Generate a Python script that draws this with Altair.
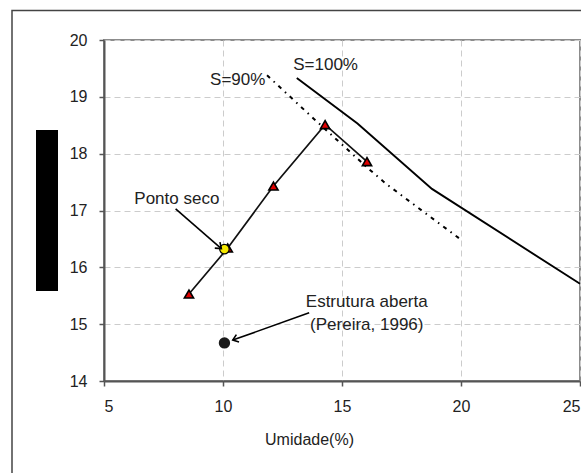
import math
import altair as alt
import pandas as pd

# Compaction test: moisture content (%) vs dry unit weight
umidade = [8.57, 10.2, 12.12, 14.29, 16.05]
peso_esp = [15.53, 16.34, 17.43, 18.51, 17.86]

# Saturation curves
s100_umid = [13.1, 15.65, 18.78, 25.0]
s100_peso = [19.33, 18.53, 17.38, 15.71]
s90_umid = [11.85, 13.8, 16.1, 16.85, 20.05]
s90_peso = [19.38, 18.62, 17.74, 17.47, 16.47]

# Highlighted points
ponto_seco_x, ponto_seco_y = [10.06], [16.32]
aberta_x, aberta_y = [10.06], [14.67]

# Annotations
label_text = ["S=90%", "S=100%", "Ponto seco", "Estrutura aberta", "(Pereira, 1996)"]
label_x = [11.78, 12.95, 8.06, 16.04, 16.04]
label_y = [19.29, 19.56, 17.20, 15.39, 14.99]
label_align = ["right", "left", "center", "center", "center"]

arrow_x1 = [8.01, 13.62]
arrow_y1 = [17.03, 15.20]
arrow_x2 = [9.93, 10.41]
arrow_y2 = [16.33, 14.72]

X_MIN, X_MAX = 5, 25
Y_MIN, Y_MAX = 14, 20
W, H = 476, 341
FONT = "Liberation Sans"

x_scale = alt.Scale(domain=[X_MIN, X_MAX], nice=False, zero=False)
y_scale = alt.Scale(domain=[Y_MIN, Y_MAX], nice=False, zero=False)

x_enc = alt.X(
    "x:Q",
    scale=x_scale,
    axis=alt.Axis(
        values=[5, 10, 15, 20, 25],
        title="Umidade(%)",
        labelPadding=12,
        titleX=205,
        titleY=63,
        titleAlign="center",
        titleBaseline="alphabetic",
    ),
)
y_enc = alt.Y(
    "y:Q",
    scale=y_scale,
    axis=alt.Axis(values=[14, 15, 16, 17, 18, 19, 20], labelPadding=12),
    title=None,
)

one_row = pd.DataFrame({"x": [0]})

# Outer frame around the figure
frame = alt.Chart(one_row).mark_rect(
    fillOpacity=0, stroke="#444444", strokeWidth=1.5
).encode(
    x=alt.value(-92), x2=alt.value(W + 200),
    y=alt.value(-29.5), y2=alt.value(H + 200),
)

# Solid black block at the left of the axis
block = alt.Chart(one_row).mark_rect(color="black").encode(
    x=alt.value(-68), x2=alt.value(-46),
    y=alt.value(90), y2=alt.value(251),
)

test_df = pd.DataFrame({"x": umidade, "y": peso_esp})
s100_df = pd.DataFrame({"x": s100_umid, "y": s100_peso})
s90_df = pd.DataFrame({"x": s90_umid, "y": s90_peso})

s100_line = alt.Chart(s100_df).mark_line(color="black", strokeWidth=1.9).encode(
    x=x_enc, y=y_enc
)
s90_line = alt.Chart(s90_df).mark_line(
    color="black", strokeWidth=2, strokeDash=[4, 5, 1.5, 5]
).encode(x=x_enc, y=y_enc)

test_line = alt.Chart(test_df).mark_line(color="#111111", strokeWidth=1.7).encode(
    x=x_enc, y=y_enc
)
test_pts = alt.Chart(test_df).mark_point(
    shape="triangle-up", filled=True, fill="#e00000", stroke="black",
    strokeWidth=1.6, size=85, opacity=1,
).encode(x=x_enc, y=y_enc)

seco_pt = alt.Chart(pd.DataFrame({"x": ponto_seco_x, "y": ponto_seco_y})).mark_point(
    shape="circle", filled=True, fill="#f5e800", stroke="black",
    strokeWidth=1.2, size=90, opacity=1,
).encode(x=x_enc, y=y_enc)

aberta_pt = alt.Chart(pd.DataFrame({"x": aberta_x, "y": aberta_y})).mark_point(
    shape="circle", filled=True, color="#1a1a1a", size=130, opacity=1,
).encode(x=x_enc, y=y_enc)

# Arrows: shaft plus an open chevron head pointing along the shaft
px_x = W / (X_MAX - X_MIN)
px_y = H / (Y_MAX - Y_MIN)
angles = [
    math.degrees(math.atan2(-(y2 - y1) * px_y, (x2 - x1) * px_x)) % 360
    for x1, y1, x2, y2 in zip(arrow_x1, arrow_y1, arrow_x2, arrow_y2)
]
shaft_df = pd.DataFrame({"x": arrow_x1, "y": arrow_y1, "x2": arrow_x2, "y2": arrow_y2})
head_df = pd.DataFrame({"x": arrow_x2, "y": arrow_y2, "ang": angles})

shafts = alt.Chart(shaft_df).mark_rule(color="black", strokeWidth=1.6).encode(
    x=x_enc, y=y_enc, x2="x2:Q", y2="y2:Q"
)
heads = alt.Chart(head_df).mark_point(
    shape="M -1 -0.75 L 0 0 L -1 0.75", filled=False, stroke="black",
    strokeWidth=1.6, size=110, opacity=1,
).encode(
    x=x_enc, y=y_enc,
    angle=alt.Angle("ang:Q", scale=None),
)

labels_df = pd.DataFrame({
    "x": label_x, "y": label_y, "t": label_text, "al": label_align,
})
label_layers = []
for al in ["left", "center", "right"]:
    sub = labels_df[labels_df["al"] == al]
    label_layers.append(
        alt.Chart(sub).mark_text(
            align=al, baseline="middle", font=FONT, fontSize=17, color="#222222"
        ).encode(x=x_enc, y=y_enc, text="t:N")
    )

chart = alt.layer(
    frame, block, s90_line, s100_line, test_line, test_pts, seco_pt, aberta_pt,
    shafts, heads, *label_layers,
).properties(
    width=W, height=H,
    autosize=alt.AutoSizeParams(type="none"),
    padding={"left": 104, "top": 40, "right": 1, "bottom": 92},
    background="white",
).configure_axis(
    grid=True, gridColor="#cccccc", gridDash=[6, 4], gridWidth=1,
    domainColor="#555555", domainWidth=2,
    tickColor="#555555", tickWidth=1.5, tickSize=5,
    labelFont=FONT, labelFontSize=16, labelColor="#222222",
    titleFont=FONT, titleFontSize=16, titleColor="#222222", titleFontWeight="normal",
).configure_view(stroke="#8c8c8c", strokeWidth=2)

chart.save("out.html", embed_options={"renderer": "svg", "actions": False})
